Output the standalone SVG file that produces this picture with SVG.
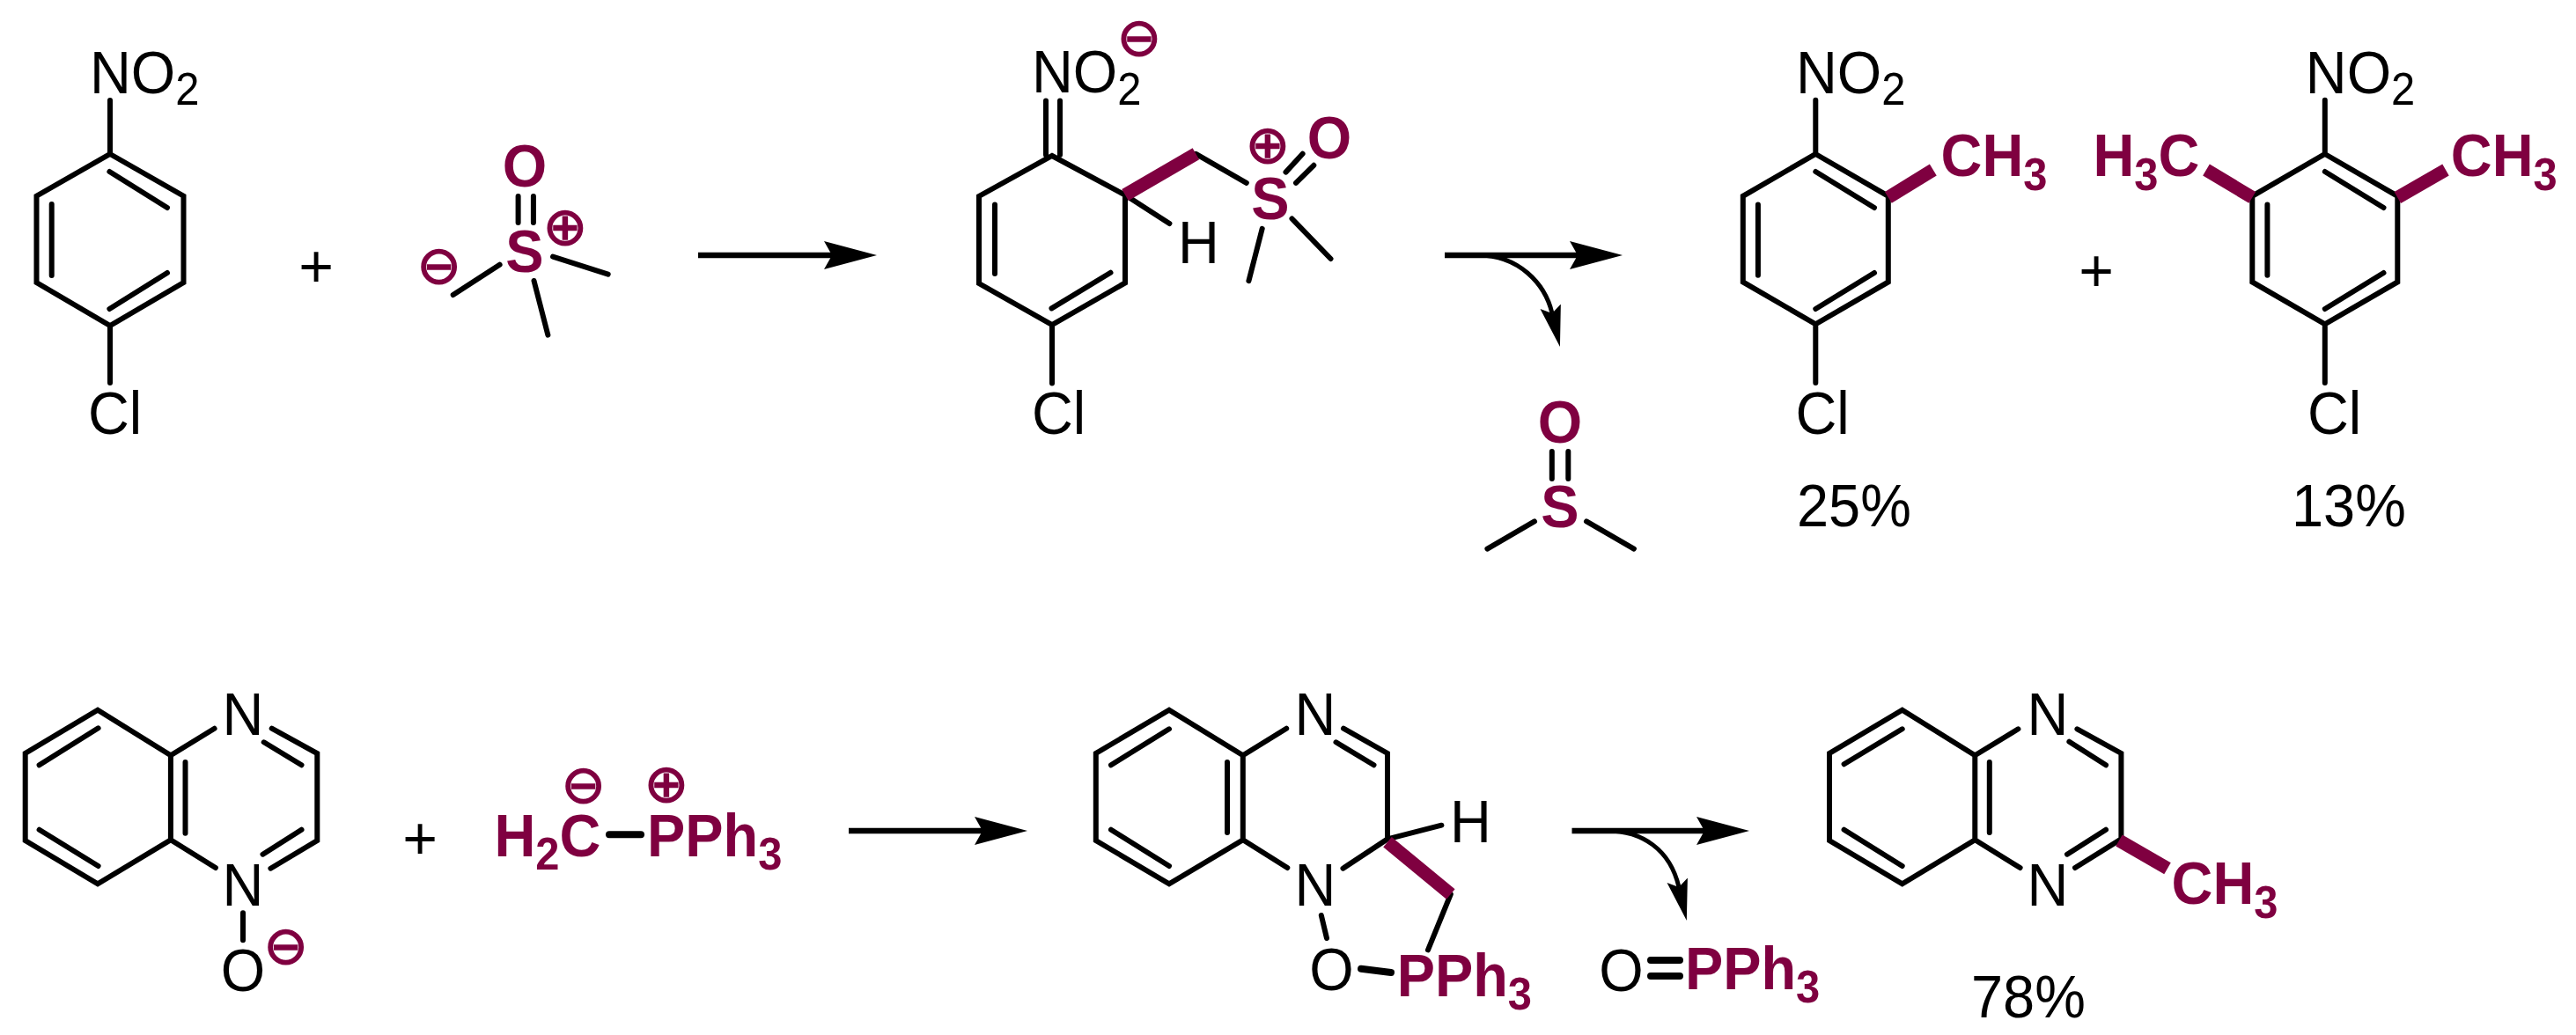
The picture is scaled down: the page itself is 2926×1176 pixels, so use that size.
<svg xmlns="http://www.w3.org/2000/svg" width="2926" height="1176" viewBox="0 0 2926 1176">
<style>
text{font-family:"Liberation Sans",Arial,sans-serif;font-size:69px;fill:#000}
.p{fill:#7f0040;font-weight:700}
.m{text-anchor:middle}
.s{font-size:52px}
.c{font-family:"DejaVu Sans",sans-serif;font-size:60px;fill:#7f0040;stroke:#7f0040;stroke-width:1.5;text-anchor:middle}
.plus{font-size:68px;text-anchor:middle}
path{fill:none}
.b{stroke:#000;stroke-width:6;stroke-linecap:round;stroke-linejoin:miter}
.t{stroke-width:8}
.w{stroke:#7f0040;stroke-width:15;stroke-linecap:butt}
.a{stroke:#000;stroke-width:6.5}
.ac{stroke:#000;stroke-width:5}
</style>
<defs>
<marker id="h1" markerUnits="userSpaceOnUse" markerWidth="62" markerHeight="34" refX="9" refY="17" orient="auto"><polygon points="0,1 60,17 0,33 9,17" fill="#000"/></marker>
<marker id="h2" markerUnits="userSpaceOnUse" markerWidth="50" markerHeight="28" refX="8" refY="14" orient="auto"><polygon points="0,2 47,14 0,26 8,14" fill="#000"/></marker>
</defs>
<rect width="2926" height="1176" fill="#fff"/>
<g id="connectors">
<path class="a" d="M793 290H945" marker-end="url(#h1)"/>
<path class="a" d="M1641 290H1792" marker-end="url(#h1)"/>
<path class="ac" d="M1679 290C1725 290 1755 322 1763 356" marker-end="url(#h2)"/>
<path class="a" d="M964 944H1116" marker-end="url(#h1)"/>
<path class="a" d="M1785.500 944H1936" marker-end="url(#h1)"/>
<path class="ac" d="M1825.700 944C1865 944 1897 965 1907 1008" marker-end="url(#h2)"/>
</g>
<g id="chloronitrobenzene">
<path class="b" d="M125 175L208.500 222.700V321L125 370L41.500 321V222.700ZM125 114V175M125 370V435M124.400 195L190 236M58.700 232V313M124.400 351L190 310"/>
<text transform="matrix(.94 0 0 1 102 105.700)">NO<tspan class="s" dy="13.300">2</tspan></text>
<text transform="matrix(.94 0 0 1 100 492.700)">Cl</text>
</g>
<text class="plus" id="plus-1" x="359" y="326">+</text>
<g id="sulfoxonium-ylide">
<path class="b" d="M588.600 223V253M605.900 223V253M567.600 300.700L514.700 335M628 291.700L690.700 311.700M606.500 319L622.400 380.700"/>
<text class="p m" transform="matrix(.94 0 0 1 596 212)">O</text>
<text class="p m" transform="matrix(.94 0 0 1 596 309)">S</text>
<text class="c" x="642" y="278">⊕</text>
<text class="c" x="498.700" y="322">⊖</text>
</g>
<g id="sigma-adduct">
<path class="b" d="M1195 177L1278 221.600V321.400L1195 369L1112 322V223ZM1188 114.500V176M1204 114.500V176M1130 232.500V311M1194.500 350.400L1261.500 309.700M1195 369V435.400M1358.400 174.800L1415.800 207.800M1278 221.600L1328.400 254M1460.500 195.600L1479.600 174.800M1472 207.800L1492.300 187.800M1433.700 259.800L1418.400 319.200M1467.500 248.500L1511.500 294"/>
<path class="w" d="M1278 221.600L1358.400 174.800"/>
<text transform="matrix(.94 0 0 1 1172 105.400)">NO<tspan class="s" dy="13.300">2</tspan></text>
<text class="c" x="1294" y="62.500">⊖</text>
<text transform="matrix(.94 0 0 1 1172 492.700)">Cl</text>
<text transform="matrix(.94 0 0 1 1338 299)">H</text>
<text class="p m" transform="matrix(.94 0 0 1 1443 249)">S</text>
<text class="c" x="1440" y="185">⊕</text>
<text class="p m" transform="matrix(.94 0 0 1 1510 180)">O</text>
</g>
<g id="dmso">
<path class="b" d="M1762.800 513V544M1781.300 513V544M1743 592.400L1689.400 623.600M1802 592.400L1855.900 623.600"/>
<text class="p m" transform="matrix(.94 0 0 1 1772 503)">O</text>
<text class="p m" transform="matrix(.94 0 0 1 1772 599)">S</text>
</g>
<g id="product-monomethyl">
<path class="b" d="M2062.300 175L2144.800 222.800V320.400L2062.300 368.300L1979.800 320.400V222.800ZM2062.300 113.800V175M2062.300 368.300V435M2062.300 195L2129 236M1996.900 232.400V312.800M2062.300 351L2129 310"/>
<path class="w" d="M2144.800 224.400L2195.800 193"/>
<text transform="matrix(.94 0 0 1 2040 106)">NO<tspan class="s" dy="13.300">2</tspan></text>
<text class="p" transform="matrix(.94 0 0 1 2204.600 200)">CH<tspan class="s" dy="16">3</tspan></text>
<text transform="matrix(.94 0 0 1 2039.400 493)">Cl</text>
<text transform="matrix(.94 0 0 1 2041 598)">25%</text>
</g>
<text class="plus" id="plus-2" x="2381" y="331">+</text>
<g id="product-dimethyl">
<path class="b" d="M2640.800 175L2723.300 222.800V320.400L2640.800 368.300L2558.300 320.400V222.800ZM2640.800 113.800V175M2640.800 368.300V435M2640.800 195L2707.500 236M2575.400 232.400V312.800M2640.800 351L2707.500 310"/>
<path class="w" d="M2723.300 224.400L2778 193M2558.300 224.400L2506 193"/>
<text transform="matrix(.94 0 0 1 2618.800 106)">NO<tspan class="s" dy="13.300">2</tspan></text>
<text class="p" transform="matrix(.94 0 0 1 2377.500 200)">H<tspan class="s" dy="16">3</tspan><tspan dy="-16">C</tspan></text>
<text class="p" transform="matrix(.94 0 0 1 2783.800 200)">CH<tspan class="s" dy="16">3</tspan></text>
<text transform="matrix(.94 0 0 1 2621 493)">Cl</text>
<text transform="matrix(.94 0 0 1 2603 598)">13%</text>
</g>
<g id="quinoxaline-n-oxide">
<path class="b" d="M193.900 858.300L111 806.700L28.700 856V955L111 1004.300L193.900 954.300ZM193.900 858.300L243.600 827.700M308.700 827.700L360.300 856V955L307.400 986.700M193.900 954.300L244.900 986M111.600 827.300L44.600 869.300M44.600 942.700L111.600 984M210.500 866V946.700M299.700 843.300L342.500 869.300M342.500 942.700L298.500 970.700M276 1037.300V1068.300"/>
<text class="m" transform="matrix(.94 0 0 1 276 835)">N</text>
<text class="m" transform="matrix(.94 0 0 1 276 1029.300)">N</text>
<text class="m" transform="matrix(.94 0 0 1 276 1126)">O</text>
<text class="c" x="324.600" y="1094.500">⊖</text>
</g>
<text class="plus" id="plus-3" x="477" y="976">+</text>
<g id="phosphonium-ylide">
<path class="b t" d="M692 948.300H728"/>
<text class="p" transform="matrix(.94 0 0 1 561.500 973.300)">H<tspan class="s" dy="15">2</tspan><tspan dy="-15">C</tspan></text>
<text class="p" transform="matrix(.94 0 0 1 735 973.300)">PPh<tspan class="s" dy="15">3</tspan></text>
<text class="c" x="662.600" y="912">⊖</text>
<text class="c" x="757" y="911">⊕</text>
</g>
<g id="cycloadduct">
<path class="b" d="M1411.800 858.300L1328 806.700L1244.800 856V955L1328 1004.300L1411.800 954.300ZM1411.800 858.300L1461.200 827.700M1526 827.700L1576 856V953.300L1525.500 986.700M1411.800 954.300L1462.300 986M1328 828.300L1262 869.300M1262 942.700L1328 984M1394 866V946M1517.500 843.300L1560.500 869.300M1576 953.300L1637.400 937.700M1647.800 1016L1622 1079.300M1500.800 1040L1507 1066"/>
<path class="w" d="M1576 956.700L1647.800 1016"/>
<path class="b t" d="M1546 1100.700L1580 1105"/>
<text class="m" transform="matrix(.94 0 0 1 1494 835)">N</text>
<text class="m" transform="matrix(.94 0 0 1 1494 1029.300)">N</text>
<text class="m" transform="matrix(.94 0 0 1 1512.600 1124.500)">O</text>
<text transform="matrix(.94 0 0 1 1647 956.700)">H</text>
<text class="p" transform="matrix(.94 0 0 1 1586.700 1132)">PPh<tspan class="s" dy="15">3</tspan></text>
</g>
<g id="triphenylphosphine-oxide">
<path class="b t" d="M1875 1091H1908M1875 1109H1908"/>
<text class="m" transform="matrix(.94 0 0 1 1841.500 1126)">O</text>
<text class="p" transform="matrix(.94 0 0 1 1913.900 1124.300)">PPh<tspan class="s" dy="15">3</tspan></text>
</g>
<g id="methylquinoxaline">
<path class="b" d="M2243.300 858.300L2160.700 806.700L2078 856V955L2160.700 1004.300L2243.300 954.300ZM2243.300 858.300L2292.400 828.300M2359.400 828.300L2409.400 856V953.300L2357 986M2243.300 954.300L2294.600 986M2160.700 828.300L2094.600 868.300M2094.600 942.700L2160.700 984M2259.800 866V946M2350.400 842.700L2392 869.300M2392 942.700L2348 970.700"/>
<path class="w" d="M2407 955L2462 986.700"/>
<text class="m" transform="matrix(.94 0 0 1 2326 835)">N</text>
<text class="m" transform="matrix(.94 0 0 1 2326 1029.300)">N</text>
<text class="p" transform="matrix(.94 0 0 1 2466.600 1026.700)">CH<tspan class="s" dy="16">3</tspan></text>
<text transform="matrix(.94 0 0 1 2239 1155.700)">78%</text>
</g>
</svg>
